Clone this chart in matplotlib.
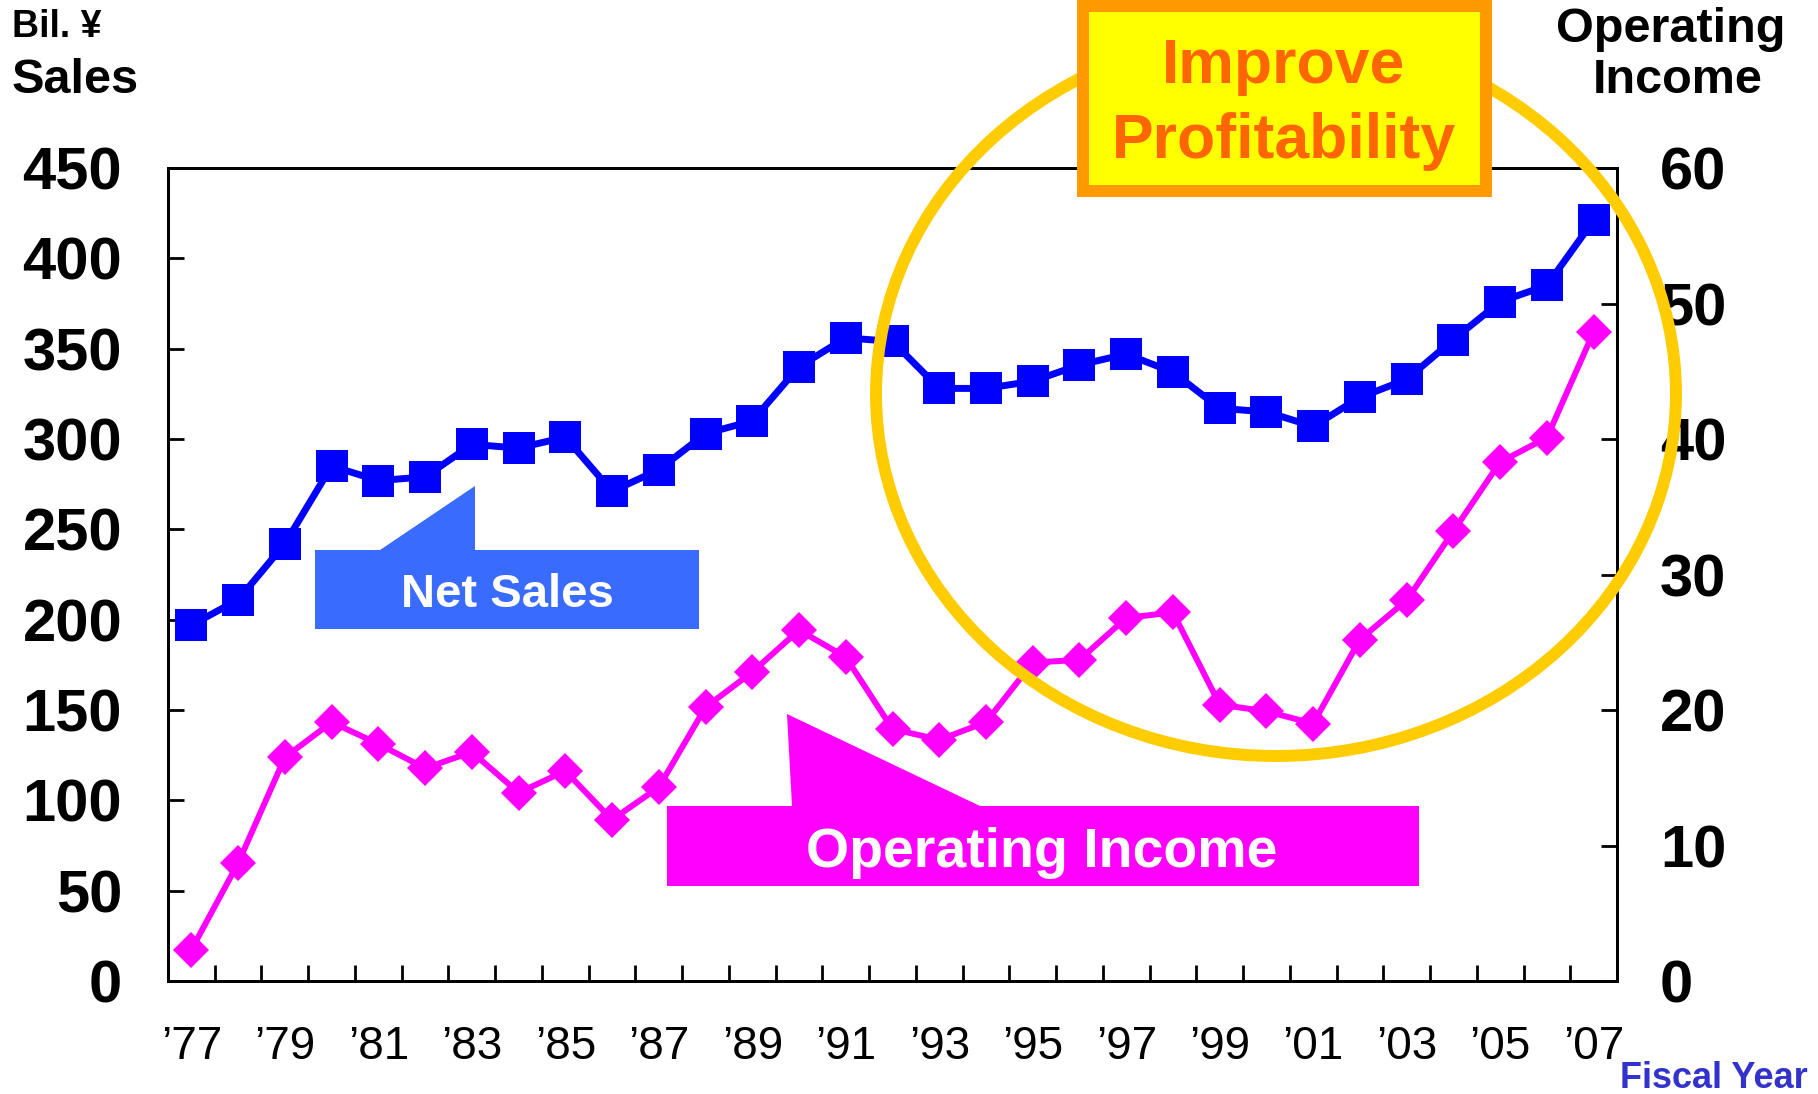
import numpy as np
import matplotlib
matplotlib.use('Agg')
import matplotlib.pyplot as plt
from matplotlib.patches import Ellipse, Rectangle, Polygon

# ---------------- data ----------------
years = list(range(1977, 2008))
year_labels = ["\u2019%02d" % (y % 100) for y in years]
net_sales = [197, 211, 242, 285, 277, 279, 297, 295, 301, 271, 283, 303, 310, 340, 356,
             354, 328, 328, 332, 341, 347, 337, 317, 315, 307, 323, 333, 355, 376, 385, 421]
op_income = [2.3, 8.7, 16.5, 19.1, 17.5, 15.7, 16.9, 13.9, 15.5, 11.9, 14.3, 20.2, 22.8,
             25.9, 23.9, 18.6, 17.8, 19.1, 23.5, 23.7, 26.8, 27.2, 20.4, 19.9, 19.0, 25.2,
             28.1, 33.2, 38.3, 40.1, 47.9]
left_ticks = list(range(0, 451, 50))
right_ticks = list(range(0, 61, 10))

W, H = 1818, 1094
fig = plt.figure(figsize=(W / 100, H / 100), dpi=100)
fig.patch.set_facecolor('white')

L, R, T, B = 168, 1617, 168, 981
ax = fig.add_axes([L / W, 1 - B / H, (R - L) / W, (B - T) / H])
ax2 = ax.twinx()

BOLD = dict(family=['Liberation Sans', 'DejaVu Sans'], weight='bold')
NARROW = dict(family=['Liberation Sans Narrow', 'Liberation Sans', 'DejaVu Sans'])

x = np.arange(len(years))
ax.plot(x, net_sales, color='#0000FF', lw=5, marker='s', ms=23, mew=0, zorder=3,
        clip_on=False)
ax2.plot(x, op_income, color='#FF00FF', lw=4.3, marker='D', ms=18.5, mew=0, zorder=3,
         clip_on=False)

ax.set_xlim(-0.5, len(years) - 0.5)
ax.set_ylim(0, 450)
ax2.set_ylim(0, 60)

# x ticks: marks at category boundaries, labels every other year
ax.set_xticks(np.arange(0.5, len(years) - 1, 1))
ax.set_xticklabels([])
ax.set_xticks(x[::2], minor=True)
ax.set_xticklabels(year_labels[::2], minor=True, fontsize=33, **NARROW)
ax.tick_params(axis='x', which='major', direction='in', length=11.5, width=2)
ax.tick_params(axis='x', which='minor', length=0, pad=32)

ax.set_yticks(left_ticks)
ax.set_yticklabels([str(v) for v in left_ticks], fontsize=43, **BOLD)
ax.tick_params(axis='y', direction='in', length=11.5, width=2, pad=33)

ax2.set_yticks(right_ticks)
ax2.set_yticklabels([str(v) for v in right_ticks], fontsize=43, **BOLD)
ax2.tick_params(axis='y', direction='in', length=11.5, width=2, pad=31)

for a in (ax, ax2):
    for s in a.spines.values():
        s.set_linewidth(2)
        s.set_color('black')


def P(px, py):
    return (px / W, 1 - py / H)


ft = fig.transFigure

# axis titles
fig.text(*P(12, 37), "Bil. \u00a5", fontsize=27, ha='left', va='baseline', **BOLD)
fig.text(*P(12, 93), "Sales", fontsize=35, ha='left', va='baseline', **BOLD)
fig.text(*P(1671, 42), "Operating", fontsize=35, ha='center', va='baseline', **BOLD)
fig.text(*P(1678, 93), "Income", fontsize=35, ha='center', va='baseline', **BOLD)
fig.text(*P(1808, 1088), "Fiscal Year", fontsize=26, ha='right', va='baseline',
         color='#3333CC', **BOLD)

# callouts
ns_poly = [P(315, 550), P(380, 550), P(475, 486), P(475, 550), P(699, 550),
           P(699, 629), P(315, 629)]
fig.patches.append(Polygon(ns_poly, closed=True, transform=ft, facecolor='#3A6BFF',
                           edgecolor='none', zorder=2))
fig.text(*P(507, 607), "Net Sales", fontsize=34, ha='center', va='baseline',
         color='white', zorder=3, **BOLD)

oi_poly = [P(667, 806), P(792, 806), P(787, 714), P(980, 806), P(1419, 806),
           P(1419, 886), P(667, 886)]
fig.patches.append(Polygon(oi_poly, closed=True, transform=ft, facecolor='#FF00FF',
                           edgecolor='none', zorder=2))
fig.text(*P(1042, 867), "Operating Income", fontsize=40, ha='center', va='baseline',
         color='white', zorder=3, **BOLD)

# highlight ellipse
cx, cy = P(1276, 394)
fig.patches.append(Ellipse((cx, cy), 800 / W, 724 / H, transform=ft, facecolor='none',
                           edgecolor='#FFCC00', lw=8.6, zorder=4))

# improve profitability box
bx0, by1 = P(1083, 191)
fig.patches.append(Rectangle((bx0, by1), (1486 - 1083) / W, (191 - 6) / H, transform=ft,
                             facecolor='#FFFF00', edgecolor='#FF9900', lw=8.6, zorder=5))
fig.text(*P(1284, 83), "Improve", fontsize=45, ha='center', va='baseline',
         color='#FF6600', zorder=6, **BOLD)
fig.text(*P(1284, 158), "Profitability", fontsize=45, ha='center', va='baseline',
         color='#FF6600', zorder=6, **BOLD)

fig.savefig('out.png', dpi=100, facecolor='white')
